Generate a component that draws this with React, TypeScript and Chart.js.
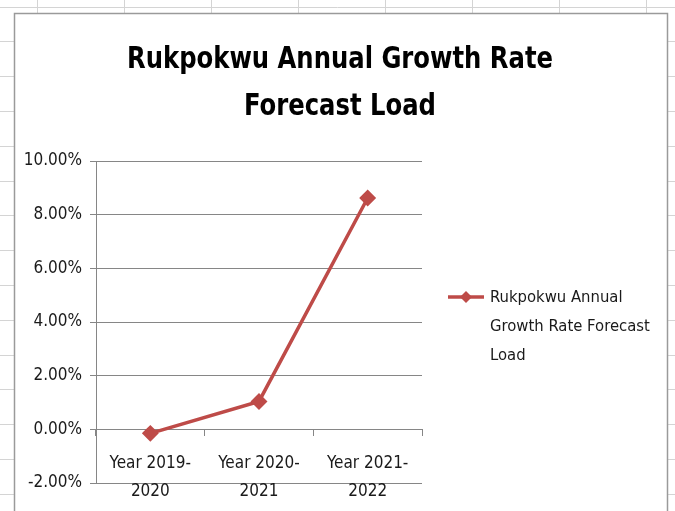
import React, { useEffect, useRef } from "react";
import { Chart, registerables } from "chart.js";

Chart.register(...registerables);

// ---- data ----
const categories: string[][] = [
  ["Year 2019-", "2020"],
  ["Year 2020-", "2021"],
  ["Year 2021-", "2022"],
];
const growthRates: number[] = [-0.0015, 0.0104, 0.0862];
const seriesName = "Rukpokwu Annual Growth Rate Forecast Load";
const titleLines: string[] = ["Rukpokwu Annual Growth Rate", "Forecast Load"];
const yMin = -0.02;
const yMax = 0.1;
const yStep = 0.02;

// ---- style ----
const FONT = "'Liberation Sans Narrow', 'DejaVu Sans Condensed', 'Open Sans', sans-serif";
const LINE_COLOR = "#BE4B48";
const GRID_COLOR = "#868686";
const TEXT_COLOR = "#1a1a1a";

const sheetPlugin = {
  id: "sheetBackground",
  beforeDraw(chart: any) {
    const ctx = chart.ctx;
    const W = chart.width;
    const H = chart.height;
    ctx.save();
    ctx.fillStyle = "#ffffff";
    ctx.fillRect(0, 0, W, H);
    ctx.strokeStyle = "#d4d4d4";
    ctx.lineWidth = 1;
    for (let y = 6.5; y < H; y += 34.8) {
      ctx.beginPath();
      ctx.moveTo(0, Math.round(y) + 0.5);
      ctx.lineTo(W, Math.round(y) + 0.5);
      ctx.stroke();
    }
    for (let x = 36.5; x < W; x += 87.1) {
      ctx.beginPath();
      ctx.moveTo(Math.round(x) + 0.5, 0);
      ctx.lineTo(Math.round(x) + 0.5, H);
      ctx.stroke();
    }
    ctx.fillStyle = "#ffffff";
    ctx.fillRect(14, 13, 654, H);
    ctx.strokeStyle = "#9a9a9a";
    ctx.lineWidth = 1.5;
    ctx.strokeRect(14.5, 13.5, 653, H + 5);
    ctx.restore();
  },
  afterDraw(chart: any) {
    const ctx = chart.ctx;
    ctx.save();
    // title (condensed horizontally to mimic the narrow original face)
    ctx.fillStyle = "#000000";
    ctx.font = `bold 30px ${FONT}`;
    ctx.textAlign = "center";
    ctx.textBaseline = "middle";
    const w0 = ctx.measureText(titleLines[0]).width;
    const sx = Math.min(1, 426 / w0);
    const titleY = [60, 107];
    titleLines.forEach((t, i) => {
      ctx.save();
      ctx.translate(340, titleY[i]);
      ctx.scale(sx, 1);
      ctx.fillText(t, 0, 0);
      ctx.restore();
    });

    // legend
    const ds = chart.data.datasets[0];
    const ly = 297;
    ctx.strokeStyle = ds.borderColor;
    ctx.lineWidth = 3.5;
    ctx.beginPath();
    ctx.moveTo(448, ly);
    ctx.lineTo(484, ly);
    ctx.stroke();
    ctx.fillStyle = ds.borderColor;
    ctx.beginPath();
    ctx.moveTo(466, ly - 6);
    ctx.lineTo(472, ly);
    ctx.lineTo(466, ly + 6);
    ctx.lineTo(460, ly);
    ctx.closePath();
    ctx.fill();

    ctx.font = `16.5px ${FONT}`;
    ctx.fillStyle = TEXT_COLOR;
    ctx.textAlign = "left";
    ctx.textBaseline = "middle";
    const words = String(ds.label).split(" ");
    const lines: string[] = [];
    let cur = "";
    for (const w of words) {
      const test = cur ? cur + " " + w : w;
      if (ctx.measureText(test).width > 172 && cur) {
        lines.push(cur);
        cur = w;
      } else cur = test;
    }
    if (cur) lines.push(cur);
    lines.forEach((l, i) => ctx.fillText(l, 490, ly + 1 + i * 29));
    ctx.restore();
  },
};

export default function App() {
  const ref = useRef<HTMLCanvasElement | null>(null);
  useEffect(() => {
    if (!ref.current) return;
    const chart = new Chart(ref.current, {
      type: "line",
      data: {
        labels: categories,
        datasets: [
          {
            label: seriesName,
            data: growthRates,
            borderColor: LINE_COLOR,
            backgroundColor: LINE_COLOR,
            borderWidth: 3.5,
            pointStyle: "rectRot",
            pointRadius: 6,
            pointBackgroundColor: LINE_COLOR,
            pointBorderColor: LINE_COLOR,
            tension: 0,
          },
        ],
      },
      options: {
        responsive: false,
        animation: false,
        layout: { padding: { left: 14, top: 161, right: 253, bottom: 28 } },
        plugins: {
          legend: { display: false },
          title: { display: false },
          tooltip: { enabled: false },
        },
        scales: {
          x: {
            type: "category",
            position: { y: 0 } as any,
            offset: true,
            grid: {
              offset: true,
              drawOnChartArea: false,
              drawTicks: true,
              tickLength: 6,
              color: GRID_COLOR,
            },
            border: { display: true, color: GRID_COLOR },
            ticks: {
              color: TEXT_COLOR,
              font: { family: FONT, size: 17, lineHeight: 1.65 },
              padding: 14,
              maxRotation: 0,
              autoSkip: false,
            },
          },
          y: {
            min: yMin,
            max: yMax,
            afterFit(scale: any) {
              scale.width = 82;
            },
            grid: {
              color: GRID_COLOR,
              tickLength: 6,
              drawTicks: true,
            },
            border: { display: true, color: GRID_COLOR },
            ticks: {
              stepSize: yStep,
              color: TEXT_COLOR,
              font: { family: FONT, size: 17 },
              padding: 8,
              callback: (v: any) => (Math.round(Number(v) * 10000) / 100).toFixed(2) + "%",
            },
          },
        },
      },
      plugins: [sheetPlugin],
    });
    return () => chart.destroy();
  }, []);
  return (
    <div style={{ position: "fixed", left: 0, top: 0, width: 675, height: 511 }}>
      <canvas ref={ref} width={675} height={511} style={{ width: 675, height: 511 }} />
    </div>
  );
}
